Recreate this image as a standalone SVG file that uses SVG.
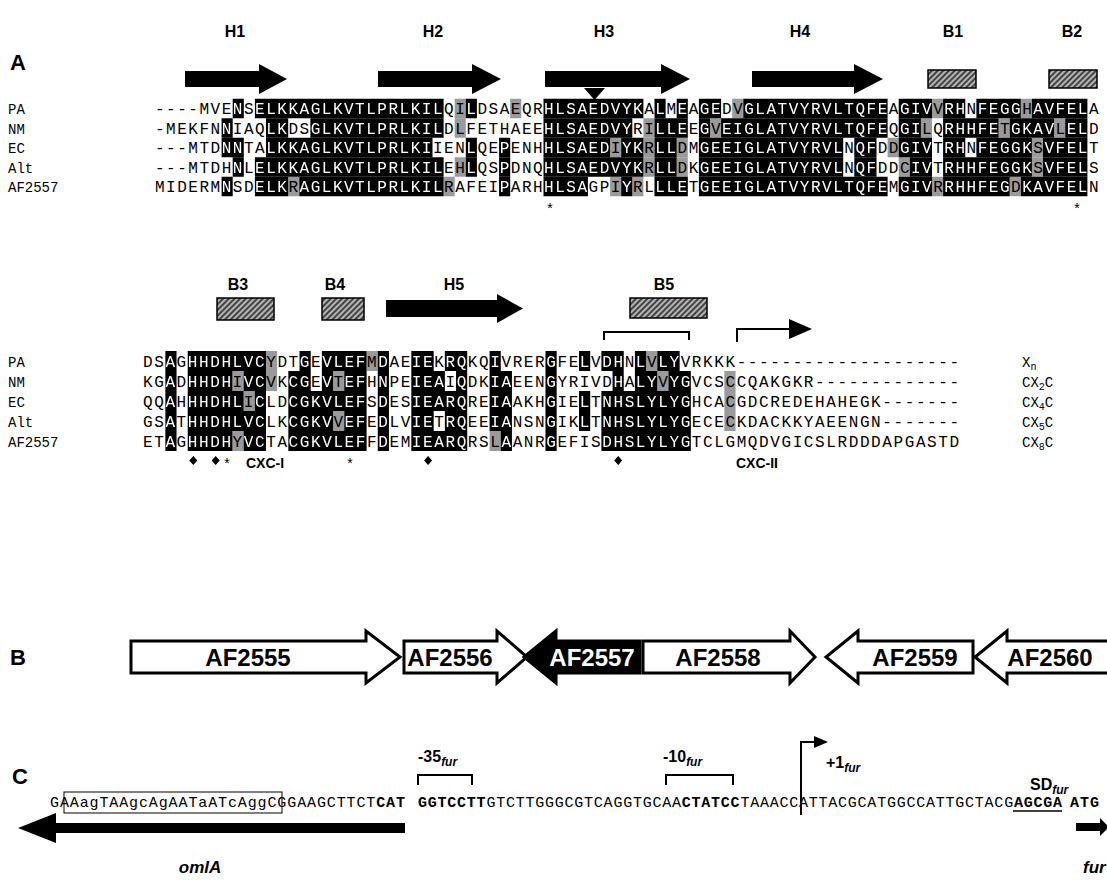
<svg xmlns="http://www.w3.org/2000/svg" width="1107" height="890" viewBox="0 0 1107 890">
<style>
.lab{font-family:"Liberation Sans",Arial,sans-serif;font-weight:bold;font-size:22px}
.hd{font-family:"Liberation Sans",Arial,sans-serif;font-weight:bold;font-size:16px;text-anchor:middle}
.nm{font-family:"Liberation Mono","Courier New",monospace;font-size:14px}
.sq{font-family:"Liberation Mono","Courier New",monospace;font-size:16px}
.w{fill:#fff}
.gene{font-family:"Liberation Sans",Arial,sans-serif;font-weight:bold;font-size:24px;text-anchor:middle}
.ds{font-family:"Liberation Mono","Courier New",monospace;font-size:15px}
.ann{font-family:"Liberation Sans",Arial,sans-serif;font-weight:bold;font-size:16px}
.sub{font-style:italic;font-size:12px}
.mk{font-family:"Liberation Sans",Arial,sans-serif;font-size:14px;text-anchor:middle}
.cxc{font-family:"Liberation Sans",Arial,sans-serif;font-weight:bold;font-size:14px;text-anchor:middle}
.hatch{fill:url(#ht);stroke:#000;stroke-width:1.5}
.arr{fill:#000}
.gbox{fill:#fff;stroke:#000;stroke-width:3;stroke-linejoin:miter}
</style>
<defs>
<pattern id="ht" width="4" height="4" patternUnits="userSpaceOnUse" patternTransform="rotate(45)">
<rect width="4" height="4" fill="#b4b4b4"/><rect width="2" height="4" fill="#444"/>
</pattern>
<clipPath id="k1" transform="translate(155 0) scale(11.1 1)">
<rect x="7" y="98.75" width="1" height="19.5"/><rect x="9" y="98.75" width="17" height="19.5"/><rect x="28" y="98.75" width="1" height="19.5"/><rect x="35" y="98.75" width="9" height="19.5"/><rect x="45" y="98.75" width="1" height="19.5"/><rect x="47" y="98.75" width="1" height="19.5"/><rect x="49" y="98.75" width="2" height="19.5"/><rect x="53" y="98.75" width="13" height="19.5"/><rect x="67" y="98.75" width="3" height="19.5"/><rect x="71" y="98.75" width="2" height="19.5"/><rect x="74" y="98.75" width="4" height="19.5"/><rect x="79" y="98.75" width="5" height="19.5"/>
<rect x="6" y="118.25" width="1" height="19.5"/><rect x="10" y="118.25" width="2" height="19.5"/><rect x="14" y="118.25" width="12" height="19.5"/><rect x="35" y="118.25" width="8" height="19.5"/><rect x="45" y="118.25" width="3" height="19.5"/><rect x="49" y="118.25" width="1" height="19.5"/><rect x="51" y="118.25" width="15" height="19.5"/><rect x="67" y="118.25" width="2" height="19.5"/><rect x="71" y="118.25" width="5" height="19.5"/><rect x="77" y="118.25" width="4" height="19.5"/><rect x="82" y="118.25" width="2" height="19.5"/>
<rect x="6" y="137.75" width="2" height="19.5"/><rect x="10" y="137.75" width="15" height="19.5"/><rect x="28" y="137.75" width="1" height="19.5"/><rect x="31" y="137.75" width="1" height="19.5"/><rect x="35" y="137.75" width="6" height="19.5"/><rect x="42" y="137.75" width="2" height="19.5"/><rect x="45" y="137.75" width="2" height="19.5"/><rect x="49" y="137.75" width="13" height="19.5"/><rect x="63" y="137.75" width="2" height="19.5"/><rect x="67" y="137.75" width="3" height="19.5"/><rect x="71" y="137.75" width="2" height="19.5"/><rect x="74" y="137.75" width="5" height="19.5"/><rect x="80" y="137.75" width="4" height="19.5"/>
<rect x="7" y="157.25" width="1" height="19.5"/><rect x="9" y="157.25" width="17" height="19.5"/><rect x="28" y="157.25" width="1" height="19.5"/><rect x="31" y="157.25" width="1" height="19.5"/><rect x="35" y="157.25" width="9" height="19.5"/><rect x="45" y="157.25" width="2" height="19.5"/><rect x="49" y="157.25" width="13" height="19.5"/><rect x="63" y="157.25" width="2" height="19.5"/><rect x="68" y="157.25" width="2" height="19.5"/><rect x="71" y="157.25" width="8" height="19.5"/><rect x="80" y="157.25" width="4" height="19.5"/>
<rect x="6" y="176.75" width="1" height="19.5"/><rect x="9" y="176.75" width="3" height="19.5"/><rect x="13" y="176.75" width="13" height="19.5"/><rect x="31" y="176.75" width="1" height="19.5"/><rect x="35" y="176.75" width="4" height="19.5"/><rect x="42" y="176.75" width="1" height="19.5"/><rect x="45" y="176.75" width="3" height="19.5"/><rect x="49" y="176.75" width="17" height="19.5"/><rect x="67" y="176.75" width="3" height="19.5"/><rect x="71" y="176.75" width="6" height="19.5"/><rect x="78" y="176.75" width="6" height="19.5"/>
</clipPath>
<clipPath id="k2" transform="translate(143 0) scale(11.18 1)">
<rect x="2" y="351" width="1" height="20"/><rect x="4" y="351" width="7" height="20"/><rect x="14" y="351" width="1" height="20"/><rect x="16" y="351" width="4" height="20"/><rect x="21" y="351" width="1" height="20"/><rect x="24" y="351" width="2" height="20"/><rect x="27" y="351" width="2" height="20"/><rect x="31" y="351" width="1" height="20"/><rect x="36" y="351" width="1" height="20"/><rect x="39" y="351" width="1" height="20"/><rect x="41" y="351" width="2" height="20"/><rect x="44" y="351" width="1" height="20"/><rect x="46" y="351" width="2" height="20"/>
<rect x="2" y="371" width="1" height="20"/><rect x="4" y="371" width="4" height="20"/><rect x="9" y="371" width="2" height="20"/><rect x="13" y="371" width="2" height="20"/><rect x="16" y="371" width="1" height="20"/><rect x="18" y="371" width="2" height="20"/><rect x="21" y="371" width="1" height="20"/><rect x="24" y="371" width="3" height="20"/><rect x="28" y="371" width="1" height="20"/><rect x="31" y="371" width="2" height="20"/><rect x="36" y="371" width="1" height="20"/><rect x="42" y="371" width="1" height="20"/><rect x="44" y="371" width="2" height="20"/><rect x="47" y="371" width="2" height="20"/>
<rect x="2" y="391" width="1" height="20"/><rect x="4" y="391" width="5" height="20"/><rect x="10" y="391" width="1" height="20"/><rect x="13" y="391" width="7" height="20"/><rect x="21" y="391" width="1" height="20"/><rect x="24" y="391" width="5" height="20"/><rect x="31" y="391" width="2" height="20"/><rect x="36" y="391" width="1" height="20"/><rect x="39" y="391" width="1" height="20"/><rect x="41" y="391" width="8" height="20"/>
<rect x="2" y="411" width="1" height="20"/><rect x="4" y="411" width="7" height="20"/><rect x="13" y="411" width="4" height="20"/><rect x="18" y="411" width="2" height="20"/><rect x="21" y="411" width="1" height="20"/><rect x="24" y="411" width="2" height="20"/><rect x="27" y="411" width="2" height="20"/><rect x="31" y="411" width="2" height="20"/><rect x="36" y="411" width="1" height="20"/><rect x="39" y="411" width="1" height="20"/><rect x="41" y="411" width="8" height="20"/>
<rect x="2" y="431" width="1" height="20"/><rect x="4" y="431" width="4" height="20"/><rect x="9" y="431" width="2" height="20"/><rect x="13" y="431" width="7" height="20"/><rect x="21" y="431" width="1" height="20"/><rect x="24" y="431" width="5" height="20"/><rect x="32" y="431" width="1" height="20"/><rect x="36" y="431" width="1" height="20"/><rect x="41" y="431" width="8" height="20"/>
</clipPath>
</defs>
<rect width="1107" height="890" fill="#fff"/>

<g id="panelA-block1">
<text class="lab" x="10" y="70">A</text>
<g id="ss1">
<text class="hd" x="235" y="37">H1</text><text class="hd" x="433" y="37">H2</text><text class="hd" x="604" y="37">H3</text><text class="hd" x="800" y="37">H4</text><text class="hd" x="953" y="37">B1</text><text class="hd" x="1072" y="37">B2</text>
<path class="arr" d="M185,71 H259 V64 L287,79 L259,94 V87 H185 Z"/>
<path class="arr" d="M378,71 H472 V64 L501,79 L472,94 V87 H378 Z"/>
<path class="arr" d="M545,71 H661 V64 L690,79 L661,94 V87 H545 Z"/>
<path class="arr" d="M752,71 H854 V64 L883,79 L854,94 V87 H752 Z"/>
<rect class="hatch" x="928" y="70" width="48" height="18"/>
<rect class="hatch" x="1049" y="70" width="48" height="18"/>
<path class="arr" d="M584,88 H605 L594.5,100 Z"/>
</g>
<g id="names1" class="nm">
<text x="8" y="114">PA</text><text x="8" y="133.5">NM</text><text x="8" y="153">EC</text><text x="8" y="172.5">Alt</text><text x="8" y="192">AF2557</text>
</g>
<g id="gray1" transform="translate(155 0) scale(11.1 1)" fill="#9a9a9a">
<rect x="27" y="98.75" width="1" height="19.5"/><rect x="32" y="98.75" width="1" height="19.5"/><rect x="52" y="98.75" width="1" height="19.5"/><rect x="70" y="98.75" width="1" height="19.5"/><rect x="78" y="98.75" width="1" height="19.5"/>
<rect x="19" y="118.25" width="1" height="19.5"/><rect x="27" y="118.25" width="1" height="19.5"/><rect x="44" y="118.25" width="1" height="19.5"/><rect x="50" y="118.25" width="1" height="19.5"/><rect x="69" y="118.25" width="1" height="19.5"/><rect x="76" y="118.25" width="1" height="19.5"/><rect x="81" y="118.25" width="1" height="19.5"/>
<rect x="41" y="137.75" width="1" height="19.5"/><rect x="44" y="137.75" width="1" height="19.5"/><rect x="47" y="137.75" width="1" height="19.5"/><rect x="66" y="137.75" width="1" height="19.5"/><rect x="79" y="137.75" width="1" height="19.5"/>
<rect x="27" y="157.25" width="1" height="19.5"/><rect x="44" y="157.25" width="1" height="19.5"/><rect x="47" y="157.25" width="1" height="19.5"/><rect x="67" y="157.25" width="1" height="19.5"/><rect x="79" y="157.25" width="1" height="19.5"/>
<rect x="12" y="176.75" width="1" height="19.5"/><rect x="26" y="176.75" width="1" height="19.5"/><rect x="41" y="176.75" width="1" height="19.5"/><rect x="43" y="176.75" width="1" height="19.5"/><rect x="70" y="176.75" width="1" height="19.5"/><rect x="77" y="176.75" width="1" height="19.5"/>
</g>
<g id="seq1" class="sq">
<text x="155" y="114" textLength="943.5" lengthAdjust="spacing">----MVENSELKKAGLKVTLPRLKILQILDSAEQRHLSAEDVYKALMEAGEDVGLATVYRVLTQFEAGIVVRHNFEGGHAVFELA</text>
<text x="155" y="133.5" textLength="943.5" lengthAdjust="spacing">-MEKFNNIAQLKDSGLKVTLPRLKILDLFETHAEEHLSAEDVYRILLEEGVEIGLATVYRVLTQFEQGILQRHHFETGKAVLELD</text>
<text x="155" y="153" textLength="943.5" lengthAdjust="spacing">---MTDNNTALKKAGLKVTLPRLKIIENLQEPENHHLSAEDIYKRLLDMGEEIGLATVYRVLNQFDDGIVTRHNFEGGKSVFELT</text>
<text x="155" y="172.5" textLength="943.5" lengthAdjust="spacing">---MTDHNLELKKAGLKVTLPRLKILEHLQSPDNQHLSAEDVYKRLLDKGEEIGLATVYRVLNQFDDCIVTRHHFEGGKSVFELS</text>
<text x="155" y="192" textLength="943.5" lengthAdjust="spacing">MIDERMNSDELKRAGLKVTLPRLKILRAFEIPARHHLSAGPIYRLLLETGEEIGLATVYRVLTQFEMGIVRRHHFEGDKAVFELN</text>
</g>
<rect x="0" y="90" width="1107" height="110" fill="#000" clip-path="url(#k1)"/>
<g id="seq1w" class="sq w" clip-path="url(#k1)">
<text x="155" y="114" textLength="943.5" lengthAdjust="spacing">----MVENSELKKAGLKVTLPRLKILQILDSAEQRHLSAEDVYKALMEAGEDVGLATVYRVLTQFEAGIVVRHNFEGGHAVFELA</text>
<text x="155" y="133.5" textLength="943.5" lengthAdjust="spacing">-MEKFNNIAQLKDSGLKVTLPRLKILDLFETHAEEHLSAEDVYRILLEEGVEIGLATVYRVLTQFEQGILQRHHFETGKAVLELD</text>
<text x="155" y="153" textLength="943.5" lengthAdjust="spacing">---MTDNNTALKKAGLKVTLPRLKIIENLQEPENHHLSAEDIYKRLLDMGEEIGLATVYRVLNQFDDGIVTRHNFEGGKSVFELT</text>
<text x="155" y="172.5" textLength="943.5" lengthAdjust="spacing">---MTDHNLELKKAGLKVTLPRLKILEHLQSPDNQHLSAEDVYKRLLDKGEEIGLATVYRVLNQFDDCIVTRHHFEGGKSVFELS</text>
<text x="155" y="192" textLength="943.5" lengthAdjust="spacing">MIDERMNSDELKRAGLKVTLPRLKILRAFEIPARHHLSAGPIYRLLLETGEEIGLATVYRVLTQFEMGIVRRHHFEGDKAVFELN</text>
</g>
<g id="marks1" class="mk">
<text x="550" y="213">*</text><text x="1077" y="213">*</text>
</g>
</g>

<g id="panelA-block2">
<g id="ss2">
<text class="hd" x="238" y="290">B3</text><text class="hd" x="335" y="290">B4</text><text class="hd" x="454" y="290">H5</text><text class="hd" x="664" y="290">B5</text>
<rect class="hatch" x="217" y="298" width="57" height="22"/>
<rect class="hatch" x="322" y="298" width="42" height="22"/>
<path class="arr" d="M386,300 H497 V294 L523,308.5 L497,323 V317 H386 Z"/>
<rect class="hatch" x="630" y="298" width="77" height="20"/>
<path d="M604,340 V332 H689 V340" fill="none" stroke="#000" stroke-width="2"/>
<path d="M737,342 V329 H792" fill="none" stroke="#000" stroke-width="2"/>
<path class="arr" d="M789,319 L812,329 L789,339 Z"/>
</g>
<g id="names2" class="nm">
<text x="8" y="366.5">PA</text><text x="8" y="386.5">NM</text><text x="8" y="406.5">EC</text><text x="8" y="426.5">Alt</text><text x="8" y="446.5">AF2557</text>
</g>
<g id="gray2" transform="translate(143 0) scale(11.18 1)" fill="#9a9a9a">
<rect x="11" y="351" width="1" height="20"/><rect x="20" y="351" width="1" height="20"/><rect x="45" y="351" width="1" height="20"/>
<rect x="8" y="371" width="1" height="20"/><rect x="11" y="371" width="1" height="20"/><rect x="17" y="371" width="1" height="20"/><rect x="46" y="371" width="1" height="20"/><rect x="52" y="371" width="1" height="20"/>
<rect x="9" y="391" width="1" height="20"/><rect x="52" y="391" width="1" height="20"/>
<rect x="17" y="411" width="1" height="20"/><rect x="52" y="411" width="1" height="20"/>
<rect x="8" y="431" width="1" height="20"/><rect x="31" y="431" width="1" height="20"/>
</g>
<g id="seq2" class="sq">
<text x="143" y="366.5" textLength="816.1" lengthAdjust="spacing">DSAGHHDHLVCYDTGEVLEFMDAEIEKRQKQIVRERGFELVDHNLVLYVRKKK--------------------</text>
<text x="143" y="386.5" textLength="816.1" lengthAdjust="spacing">KGADHHDHIVCVKCGEVTEFHNPEIEAIQDKIAEENGYRIVDHALYVYGVCSCCQAKGKR-------------</text>
<text x="143" y="406.5" textLength="816.1" lengthAdjust="spacing">QQAHHHDHLICLDCGKVLEFSDESIEARQREIAAKHGIELTNHSLYLYGHCACGDCREDEHAHEGK-------</text>
<text x="143" y="426.5" textLength="816.1" lengthAdjust="spacing">GSATHHDHLVCLKCGKVVEFEDLVIETRQEEIANSNGIKLTNHSLYLYGECECKDACKKYAEENGN-------</text>
<text x="143" y="446.5" textLength="816.1" lengthAdjust="spacing">ETAGHHDHYVCTACGKVLEFFDEMIEARQRSLAANRGEFISDHSLYLYGTCLGMQDVGICSLRDDDAPGASTD</text>
</g>
<rect x="0" y="345" width="1107" height="110" fill="#000" clip-path="url(#k2)"/>
<g id="seq2w" class="sq w" clip-path="url(#k2)">
<text x="143" y="366.5" textLength="816.1" lengthAdjust="spacing">DSAGHHDHLVCYDTGEVLEFMDAEIEKRQKQIVRERGFELVDHNLVLYVRKKK--------------------</text>
<text x="143" y="386.5" textLength="816.1" lengthAdjust="spacing">KGADHHDHIVCVKCGEVTEFHNPEIEAIQDKIAEENGYRIVDHALYVYGVCSCCQAKGKR-------------</text>
<text x="143" y="406.5" textLength="816.1" lengthAdjust="spacing">QQAHHHDHLICLDCGKVLEFSDESIEARQREIAAKHGIELTNHSLYLYGHCACGDCREDEHAHEGK-------</text>
<text x="143" y="426.5" textLength="816.1" lengthAdjust="spacing">GSATHHDHLVCLKCGKVVEFEDLVIETRQEEIANSNGIKLTNHSLYLYGECECKDACKKYAEENGN-------</text>
<text x="143" y="446.5" textLength="816.1" lengthAdjust="spacing">ETAGHHDHYVCTACGKVLEFFDEMIEARQRSLAANRGEFISDHSLYLYGTCLGMQDVGICSLRDDDAPGASTD</text>
</g>
<g id="types" class="nm" font-size="15">
<text x="1022" y="366.5">X<tspan font-size="10" dy="3">n</tspan></text>
<text x="1022" y="386.5">CX<tspan font-size="10" dy="3">2</tspan><tspan dy="-3">C</tspan></text>
<text x="1022" y="406.5">CX<tspan font-size="10" dy="3">4</tspan><tspan dy="-3">C</tspan></text>
<text x="1022" y="426.5">CX<tspan font-size="10" dy="3">5</tspan><tspan dy="-3">C</tspan></text>
<text x="1022" y="446.5">CX<tspan font-size="10" dy="3">8</tspan><tspan dy="-3">C</tspan></text>
</g>
<g id="marks2">
<path class="arr" d="M193.3,456 l4,4.5 l-4,4.5 l-4,-4.5 Z M215.7,456 l4,4.5 l-4,4.5 l-4,-4.5 Z M428.1,456 l4,4.5 l-4,4.5 l-4,-4.5 Z M618.2,456 l4,4.5 l-4,4.5 l-4,-4.5 Z"/>
<text class="mk" x="227" y="468">*</text><text class="mk" x="350" y="468">*</text>
<text class="cxc" x="265" y="468">CXC-I</text>
<text class="cxc" x="757" y="468">CXC-II</text>
</g>
</g>

<g id="panelB">
<text class="lab" x="10" y="665">B</text>
<g id="g2555"><path class="gbox" d="M131,641 H366 V631 L400,657 L366,683 V673 H131 Z"/><text class="gene" x="248" y="666">AF2555</text></g>
<g id="g2556"><path class="gbox" d="M404,641 H497 V631 L527,657 L497,683 V673 H404 Z"/><text class="gene" x="450" y="666">AF2556</text></g>
<g id="g2557"><path d="M640,641 H556 V631 L524,657 L556,683 V673 H640 Z" fill="#000" stroke="#000" stroke-width="3"/><text class="gene" x="592" y="666" fill="#fff">AF2557</text></g>
<g id="g2558"><path class="gbox" d="M643,641 H790 V631 L815,657 L790,683 V673 H643 Z"/><text class="gene" x="718" y="666">AF2558</text></g>
<g id="g2559"><path class="gbox" d="M973,641 H858 V631 L826,657 L858,683 V673 H973 Z"/><text class="gene" x="915" y="666">AF2559</text></g>
<g id="g2560"><path class="gbox" d="M1112,641 H1007 V631 L975,657 L1007,683 V673 H1112 Z"/><text class="gene" x="1050" y="666">AF2560</text></g>
</g>

<g id="panelC">
<text class="lab" x="12" y="784">C</text>
<text class="ann" x="418" y="762">-35<tspan class="sub" dy="4">fur</tspan></text>
<path d="M418,785 V775 H472 V785" fill="none" stroke="#000" stroke-width="2"/>
<text class="ann" x="663" y="762">-10<tspan class="sub" dy="4">fur</tspan></text>
<path d="M666,785 V775 H733 V785" fill="none" stroke="#000" stroke-width="2"/>
<path d="M801,815 V742 H816" fill="none" stroke="#000" stroke-width="2"/>
<path class="arr" d="M814,736 L828,742 L814,748 Z"/>
<text class="ann" x="826" y="768">+1<tspan class="sub" dy="4">fur</tspan></text>
<text class="ann" x="1030" y="790">SD<tspan class="sub" dy="4">fur</tspan></text>
<rect x="64" y="792" width="218" height="21" fill="none" stroke="#000" stroke-width="1"/>
<text class="ds" x="50" y="807" textLength="355" lengthAdjust="spacing">GAAagTAAgcAgAATaATcAggCGGAAGCTTCT<tspan font-weight="bold">CAT</tspan></text>
<text class="ds" x="418" y="807" textLength="644" lengthAdjust="spacing"><tspan font-weight="bold">GGTCCTT</tspan>GTCTTGGGCGTCAGGTGCAA<tspan font-weight="bold">CTATCC</tspan>TAAACCATTACGCATGGCCATTGCTACG<tspan font-weight="bold">AGCGA</tspan></text>
<line x1="1013" y1="811" x2="1062" y2="811" stroke="#000" stroke-width="1.5"/>
<text class="ds" x="1070" y="807" font-weight="bold" textLength="29" lengthAdjust="spacing">ATG</text>
<path class="arr" d="M405,823 H56 V813 L18,828 L56,843 V833 H405 Z"/>
<text x="200" y="873" font-family="Liberation Sans, Arial, sans-serif" font-weight="bold" font-style="italic" font-size="17" text-anchor="middle">omlA</text>
<path class="arr" d="M1076,823 H1100 V818 L1109,827 L1100,836 V831 H1076 Z"/>
<text x="1083" y="873" font-family="Liberation Sans, Arial, sans-serif" font-weight="bold" font-style="italic" font-size="17">fur</text>
</g>
</svg>
